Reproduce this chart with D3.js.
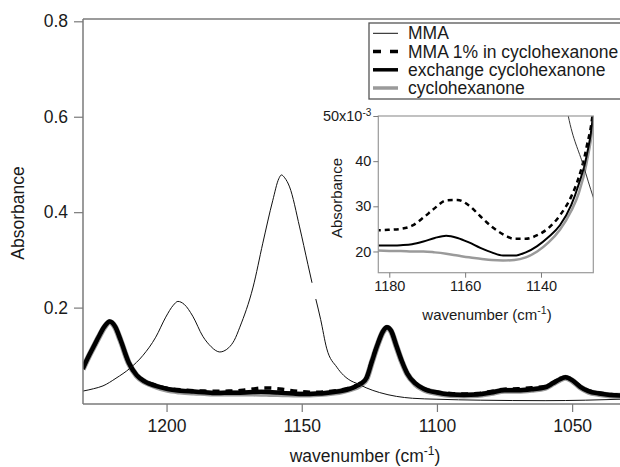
<!DOCTYPE html>
<html>
<head>
<meta charset="utf-8">
<script src="https://cdn.jsdelivr.net/npm/d3@7"></script>
<style>
  html, body { margin: 0; padding: 0; background: #fff; }
  svg { display: block; font-family: "Liberation Sans", Arial, Helvetica, sans-serif; }
</style>
</head>
<body>
<svg id="chart" width="620" height="467"></svg>
<script>
// ---------------- data ----------------
const mmaWn = [1231, 1227, 1223.5, 1218.7, 1213.5, 1208.7, 1204, 1200.3, 1197.5, 1195.8, 1193.5, 1190.3, 1186.6, 1183.5, 1181.8, 1180.3, 1178.8, 1177, 1175, 1172.9, 1168, 1164.4, 1160.7, 1158.5, 1157.5, 1156.3, 1154.5, 1150.8, 1147.7, 1146.2, null, 1144.8, 1143, 1140.8, 1137, 1134.5, 1132.8, 1128.8, 1126.2, 1121.2, 1115, 1109, 1100, 1084, 1060, 1045, 1032];
const mmaAbs = [0.025, 0.030, 0.036, 0.052, 0.073, 0.100, 0.138, 0.180, 0.205, 0.213, 0.207, 0.182, 0.140, 0.118, 0.110, 0.107, 0.109, 0.116, 0.131, 0.159, 0.243, 0.335, 0.425, 0.470, 0.478, 0.472, 0.453, 0.369, 0.290, 0.252, null, 0.218, 0.175, 0.115, 0.075, 0.058, 0.050, 0.039, 0.032, 0.022, 0.014, 0.010, 0.008, 0.006, 0.005, 0.006, 0.008];

const solvWn = [1231, 1229, 1227, 1225, 1223, 1221, 1219, 1217, 1214, 1211, 1208, 1204, 1200, 1195, 1190, 1186, 1183, 1180, 1177, 1174, 1171, 1168, 1165, 1162, 1159, 1156, 1153, 1150, 1147, 1144, 1141, 1138, 1135, 1132, 1130, 1128, 1126, 1124, 1122, 1120, 1118.5, 1117, 1115, 1113, 1111, 1108, 1105, 1100, 1095, 1090, 1085, 1080, 1075, 1070, 1065, 1060, 1057, 1054.5, 1052.5, 1050, 1047, 1044, 1040, 1036, 1032];

const mma1pctAbs = [0.072, 0.096, 0.118, 0.140, 0.160, 0.171, 0.160, 0.132, 0.085, 0.059, 0.046, 0.037, 0.031, 0.028, 0.026, 0.025, 0.0247, 0.0248, 0.0250, 0.0257, 0.0275, 0.0296, 0.0313, 0.0314, 0.0302, 0.0278, 0.0255, 0.0238, 0.0228, 0.0228, 0.0236, 0.0252, 0.0280, 0.0322, 0.0365, 0.0430, 0.0540, 0.090, 0.123, 0.150, 0.159, 0.152, 0.120, 0.088, 0.063, 0.042, 0.031, 0.023, 0.020, 0.019, 0.020, 0.024, 0.029, 0.030, 0.032, 0.035, 0.043, 0.051, 0.054, 0.048, 0.035, 0.026, 0.021, 0.018, 0.017];

const exchangeAbs = [0.072, 0.096, 0.118, 0.140, 0.160, 0.171, 0.160, 0.132, 0.085, 0.058, 0.045, 0.036, 0.030, 0.026, 0.024, 0.0225, 0.0213, 0.0213, 0.0214, 0.0216, 0.0222, 0.0230, 0.0235, 0.0230, 0.0220, 0.0208, 0.0198, 0.0191, 0.0191, 0.0198, 0.0212, 0.0232, 0.0258, 0.0303, 0.0350, 0.0410, 0.0530, 0.088, 0.122, 0.150, 0.159, 0.152, 0.120, 0.088, 0.062, 0.041, 0.030, 0.022, 0.018, 0.017, 0.018, 0.022, 0.027, 0.027, 0.029, 0.033, 0.042, 0.050, 0.054, 0.048, 0.034, 0.025, 0.020, 0.017, 0.016];

const cyclohexanoneAbs = [0.071, 0.095, 0.117, 0.139, 0.159, 0.170, 0.159, 0.131, 0.084, 0.057, 0.044, 0.035, 0.028, 0.024, 0.022, 0.021, 0.0202, 0.0201, 0.0201, 0.0200, 0.0200, 0.0198, 0.0195, 0.0191, 0.0187, 0.0184, 0.0181, 0.0180, 0.0181, 0.0187, 0.0200, 0.0220, 0.0248, 0.0290, 0.0330, 0.0395, 0.0515, 0.087, 0.121, 0.149, 0.158, 0.151, 0.119, 0.087, 0.061, 0.040, 0.029, 0.021, 0.017, 0.016, 0.017, 0.021, 0.026, 0.026, 0.028, 0.032, 0.041, 0.049, 0.053, 0.047, 0.033, 0.024, 0.019, 0.016, 0.015];

const mainYTicks = [0.2, 0.4, 0.6, 0.8];
const mainXTicks = [1200, 1150, 1100, 1050];
const insetYTicks = [0.020, 0.030, 0.040, 0.050];
const insetXTicks = [1180, 1160, 1140];
const legendLabels = ["MMA", "MMA 1% in cyclohexanone", "exchange cyclohexanone", "cyclohexanone"];

// ---------------- build ----------------
const svg = d3.select("#chart");
const AXIS = "#7a7a7a";
const TXT = "#1a1a1a";
const FS = 17.5, FSI = 14.5;

function pairs(wn, vals) {
  return wn.map((w, i) => (w === null || vals[i] === null) ? null : { w: w, v: vals[i] });
}
const mmaData = pairs(mmaWn, mmaAbs);
const dashData = pairs(solvWn, mma1pctAbs);
const exchData = pairs(solvWn, exchangeAbs);
const cycloData = pairs(solvWn, cyclohexanoneAbs);

// main plot
const M = { left: 83, right: 640, top: 19, bottom: 404 };
const x = d3.scaleLinear().domain([1230.9, 1024.9]).range([M.left, M.right]);
const y = d3.scaleLinear().domain([-0.002, 0.8]).range([M.bottom, 21.3]);

svg.append("clipPath").attr("id", "mainClip")
  .append("rect").attr("x", M.left).attr("y", M.top).attr("width", M.right - M.left).attr("height", M.bottom - M.top);

const lineMain = d3.line()
  .defined(d => d !== null)
  .x(d => x(d.w)).y(d => y(d.v))
  .curve(d3.curveMonotoneX);

const gMain = svg.append("g").attr("clip-path", "url(#mainClip)");
gMain.append("path").attr("d", lineMain(cycloData)).attr("fill", "none").attr("stroke", "#9a9a9a").attr("stroke-width", 6).attr("stroke-linejoin", "round");
gMain.append("path").attr("d", lineMain(exchData)).attr("fill", "none").attr("stroke", "#000").attr("stroke-width", 4.5).attr("stroke-linejoin", "round");
gMain.append("path").attr("d", lineMain(dashData)).attr("fill", "none").attr("stroke", "#000").attr("stroke-width", 3.5).attr("stroke-dasharray", "7,6");
gMain.append("path").attr("d", lineMain(mmaData)).attr("fill", "none").attr("stroke", "#111").attr("stroke-width", 1);

// frame lines
svg.append("line").attr("x1", M.left).attr("x2", 640).attr("y1", M.top).attr("y2", M.top).attr("stroke", AXIS).attr("stroke-width", 1.5);

const yAxis = svg.append("g").attr("transform", `translate(${M.left},0)`)
  .call(d3.axisLeft(y).tickValues(mainYTicks).tickFormat(d3.format(".1f")).tickSize(9).tickPadding(6).tickSizeOuter(0));
yAxis.select(".domain").remove();
yAxis.append("line").attr("x1", 0).attr("x2", 0).attr("y1", M.top).attr("y2", M.bottom).attr("stroke", AXIS).attr("stroke-width", 1.5);

const xAxis = svg.append("g").attr("transform", `translate(0,${M.bottom})`)
  .call(d3.axisBottom(x).tickValues(mainXTicks).tickFormat(d3.format("d")).tickSize(8).tickPadding(8).tickSizeOuter(0));
xAxis.select(".domain").remove();
xAxis.append("line").attr("x1", M.left).attr("x2", 640).attr("y1", 0).attr("y2", 0).attr("stroke", AXIS).attr("stroke-width", 1.5);

[yAxis, xAxis].forEach(a => {
  a.selectAll(".tick line").attr("stroke", AXIS).attr("stroke-width", 1.2);
  a.selectAll(".tick text").attr("font-size", FS).attr("fill", TXT).attr("font-family", "Liberation Sans, Arial, sans-serif");
});

// axis titles
svg.append("text").attr("transform", "translate(24,213) rotate(-90)").attr("text-anchor", "middle")
  .attr("font-size", FS).attr("fill", TXT).text("Absorbance");
const xt = svg.append("text").attr("x", 365).attr("y", 462).attr("text-anchor", "middle").attr("font-size", FS).attr("fill", TXT);
xt.append("tspan").text("wavenumber (cm");
xt.append("tspan").attr("font-size", 12).attr("dy", -7).text("-1");
xt.append("tspan").attr("dy", 7).text(")");

// legend
const L = { x: 369, y: 23, w: 270, h: 76 };
svg.append("rect").attr("x", L.x).attr("y", L.y).attr("width", L.w).attr("height", L.h)
  .attr("fill", "#fff").attr("stroke", "#555").attr("stroke-width", 1.3);
const legStyles = [
  { stroke: "#111", width: 1, dash: null },
  { stroke: "#000", width: 3.5, dash: "8,9" },
  { stroke: "#000", width: 3.5, dash: null },
  { stroke: "#9a9a9a", width: 3.5, dash: null }
];
const legRows = [33.3, 51.5, 69.8, 88];
legendLabels.forEach((lab, i) => {
  const s = legStyles[i];
  svg.append("line").attr("x1", 373).attr("x2", 398).attr("y1", legRows[i]).attr("y2", legRows[i])
    .attr("stroke", s.stroke).attr("stroke-width", s.width).attr("stroke-dasharray", s.dash);
  svg.append("text").attr("x", 408).attr("y", legRows[i] + 6).attr("font-size", FS).attr("fill", TXT).text(lab);
});

// inset
const I = { left: 378.3, right: 593.3, top: 116, bottom: 272.7 };
const xi = d3.scaleLinear().domain([1182.9, 1126.2]).range([I.left, I.right]);
const yi = d3.scaleLinear().domain([0.0153, 0.050]).range([I.bottom, I.top]);

svg.append("rect").attr("x", I.left).attr("y", I.top).attr("width", I.right - I.left).attr("height", I.bottom - I.top)
  .attr("fill", "#fff");
svg.append("clipPath").attr("id", "insetClip")
  .append("rect").attr("x", I.left).attr("y", I.top).attr("width", I.right - I.left).attr("height", I.bottom - I.top);

const lineInset = d3.line()
  .defined(d => d !== null)
  .x(d => xi(d.w)).y(d => yi(d.v))
  .curve(d3.curveMonotoneX);

const gIn = svg.append("g").attr("clip-path", "url(#insetClip)");
gIn.append("path").attr("d", lineInset(cycloData)).attr("fill", "none").attr("stroke", "#9a9a9a").attr("stroke-width", 2.5);
gIn.append("path").attr("d", lineInset(exchData)).attr("fill", "none").attr("stroke", "#000").attr("stroke-width", 2);
gIn.append("path").attr("d", lineInset(dashData)).attr("fill", "none").attr("stroke", "#000").attr("stroke-width", 2.5).attr("stroke-dasharray", "5,4");
gIn.append("path").attr("d", lineInset(mmaData)).attr("fill", "none").attr("stroke", "#333").attr("stroke-width", 1);

svg.append("rect").attr("x", I.left).attr("y", I.top).attr("width", I.right - I.left).attr("height", I.bottom - I.top)
  .attr("fill", "none").attr("stroke", "#999").attr("stroke-width", 1.2);

const yiAxis = svg.append("g").attr("transform", `translate(${I.left},0)`)
  .call(d3.axisLeft(yi).tickValues(insetYTicks).tickFormat(d => "").tickSize(5).tickSizeOuter(0));
yiAxis.select(".domain").remove();
yiAxis.selectAll(".tick line").attr("stroke", AXIS);
yiAxis.selectAll(".tick text").each(function(d) {
  const t = d3.select(this).attr("font-size", FSI).attr("fill", TXT).attr("x", -7);
  const n = Math.round(d * 1000);
  if (n === 50) {
    t.attr("dy", "0.32em");
    t.append("tspan").text("50x10");
    t.append("tspan").attr("font-size", 10).attr("dy", -5).text("-3");
  } else {
    t.text(String(n));
  }
});

const xiAxis = svg.append("g").attr("transform", `translate(0,${I.bottom})`)
  .call(d3.axisBottom(xi).tickValues(insetXTicks).tickFormat(d3.format("d")).tickSize(5).tickPadding(3).tickSizeOuter(0));
xiAxis.select(".domain").remove();
xiAxis.selectAll(".tick line").attr("stroke", AXIS);
xiAxis.selectAll(".tick text").attr("font-size", FSI).attr("fill", TXT).attr("font-family", "Liberation Sans, Arial, sans-serif");

svg.append("text").attr("transform", "translate(342,198) rotate(-90)").attr("text-anchor", "middle")
  .attr("font-size", 15).attr("fill", TXT).text("Absorbance");
const xit = svg.append("text").attr("x", 487).attr("y", 320).attr("text-anchor", "middle").attr("font-size", 15).attr("fill", TXT);
xit.append("tspan").text("wavenumber (cm");
xit.append("tspan").attr("font-size", 10.5).attr("dy", -6).text("-1");
xit.append("tspan").attr("dy", 6).text(")");
</script>
</body>
</html>
